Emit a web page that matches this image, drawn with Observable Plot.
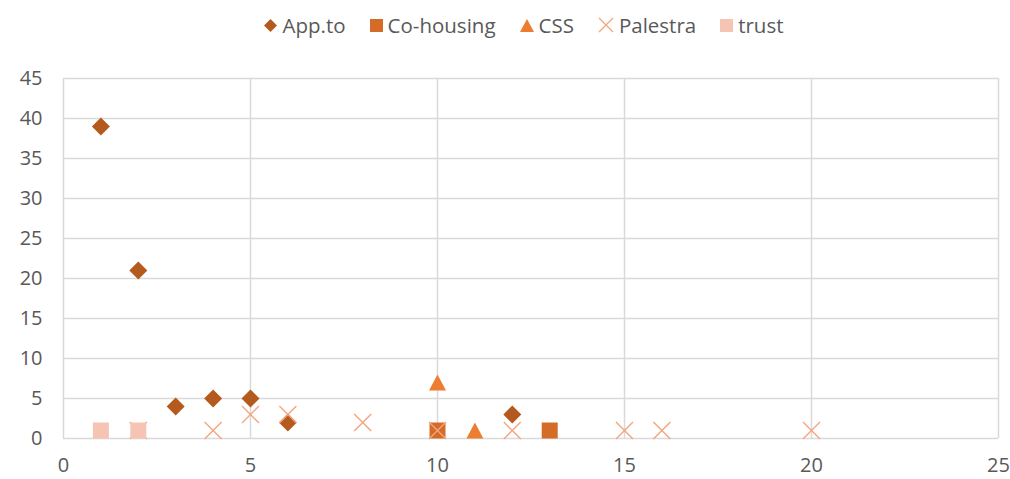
<!DOCTYPE html>
<html><head><meta charset="utf-8">
<script src="https://cdn.jsdelivr.net/npm/d3@7"></script>
<script src="https://cdn.jsdelivr.net/npm/@observablehq/plot@0.6"></script>
<style>
body{margin:0;background:#fff;font-family:"Open Sans",sans-serif;}
#legend{height:50px;display:flex;justify-content:center;align-items:center;gap:24px;font-size:20.5px;color:#595959;padding-left:38px;box-sizing:border-box;}
#legend span.item{display:flex;align-items:center;gap:5px;}
#chart svg{display:block;}
</style></head><body>
<div id="legend"></div>
<div id="chart"></div>
<script>
const seriesNames = ["App.to","Co-housing","CSS","Palestra","trust"];
const seriesColors = ["#b45a1f","#d46c27","#ed7d31","#f4a57f","#f6c4b2"];
const appX = [1,2,3,4,5,6,12];
const appY = [39,21,4,5,5,2,3];
const cohX = [10,13];
const cohY = [1,1];
const cssX = [10,11];
const cssY = [7,1];
const palX = [2,4,5,6,8,10,12,15,16,20];
const palY = [1,1,3,3,2,1,1,1,1,1];
const trustX = [1,2];
const trustY = [1,1];
const xTicks = [0,5,10,15,20,25];
const yTicks = [0,5,10,15,20,25,30,35,40,45];

const diamond = {draw(c){const h=9;c.moveTo(0,-h);c.lineTo(h,0);c.lineTo(0,h);c.lineTo(-h,0);c.closePath();}};
const square = {draw(c){const h=8;c.moveTo(-h,-h);c.lineTo(h,-h);c.lineTo(h,h);c.lineTo(-h,h);c.closePath();}};
const triangle = {draw(c){const w=8.5,h=8;c.moveTo(0,-h);c.lineTo(w,h);c.lineTo(-w,h);c.closePath();}};
const cross = {draw(c){const h=8.5;c.moveTo(-h,-h);c.lineTo(h,h);c.moveTo(h,-h);c.lineTo(-h,h);}};

const mk = (xs, ys, s) => xs.map((x,i)=>({x, y: ys[i], s}));
const app = mk(appX, appY, seriesNames[0]);
const coh = mk(cohX, cohY, seriesNames[1]);
const css = mk(cssX, cssY, seriesNames[2]);
const pal = mk(palX, palY, seriesNames[3]);
const tru = mk(trustX, trustY, seriesNames[4]);

// legend
const legendSvg = {
  0:'<svg width="13" height="13"><path d="M6.5 0L13 6.5L6.5 13L0 6.5Z" fill="'+seriesColors[0]+'"/></svg>',
  1:'<svg width="13" height="13"><rect width="13" height="13" fill="'+seriesColors[1]+'"/></svg>',
  2:'<svg width="14" height="13"><path d="M7 0L14 13L0 13Z" fill="'+seriesColors[2]+'"/></svg>',
  3:'<svg width="16" height="16"><path d="M1 1L15 15M15 1L1 15" stroke="'+seriesColors[3]+'" stroke-width="1.3"/></svg>',
  4:'<svg width="13" height="13"><rect width="13" height="13" fill="'+seriesColors[4]+'"/></svg>'
};
const lg = document.getElementById("legend");
seriesNames.forEach((n,i)=>{
  const s=document.createElement("span");s.className="item";
  s.innerHTML=legendSvg[i]+'<span>'+n+'</span>';lg.appendChild(s);
});

const chart = Plot.plot({
  width: 1010, height: 429,
  marginLeft: 63, marginRight: 12, marginTop: 28, marginBottom: 41,
  style: {fontFamily: "'Open Sans', sans-serif", fontSize: "20px", color: "#595959", background: "#fff"},
  x: {domain: [0,25], ticks: xTicks, tickSize: 0, label: null},
  y: {domain: [0,45], ticks: yTicks, tickSize: 0, label: null},
  marks: [
    Plot.ruleX(xTicks, {stroke: "#d9d9d9", strokeWidth: 1.5}),
    Plot.ruleY(yTicks, {stroke: "#d9d9d9", strokeWidth: 1.5}),
    Plot.dot(app, {x:"x", y:"y", symbol: ()=>diamond, fill: seriesColors[0], stroke: "none", r: 9}),
    Plot.dot(coh, {x:"x", y:"y", symbol: ()=>square, fill: seriesColors[1], stroke: "none", r: 9}),
    Plot.dot(css, {x:"x", y:"y", symbol: ()=>triangle, fill: seriesColors[2], stroke: "none", r: 9}),
    Plot.dot(pal, {x:"x", y:"y", symbol: ()=>cross, stroke: seriesColors[3], fill: "none", strokeWidth: 1.4, r: 9}),
    Plot.dot(tru, {x:"x", y:"y", symbol: ()=>square, fill: seriesColors[4], stroke: "none", r: 9}),
    Plot.axisX({ticks: xTicks, tickSize: 0, tickPadding: 19, fill: "#595959", fontSize: 20}),
    Plot.axisY({ticks: yTicks, tickSize: 0, tickPadding: 21, fill: "#595959", fontSize: 20})
  ]
});
document.getElementById("chart").appendChild(chart);
</script>
</body></html>
